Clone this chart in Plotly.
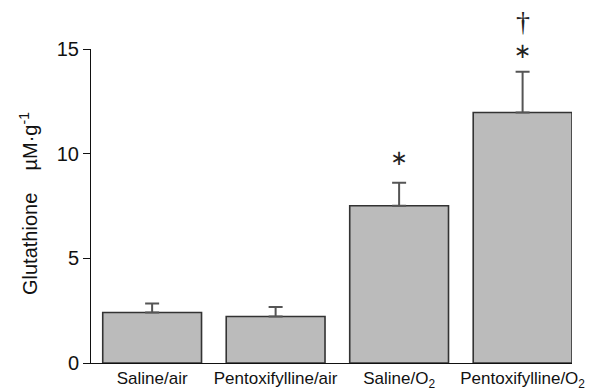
import plotly.graph_objects as go

# Glutathione content per treatment group (mean + SEM)
groups = ["Saline/air", "Pentoxifylline/air", "Saline/O<sub>2</sub>", "Pentoxifylline/O<sub>2</sub>"]
glutathione = [2.41, 2.22, 7.51, 11.97]
sem = [0.43, 0.45, 1.10, 1.94]

# Significance markers drawn above the error bars
star_groups = [groups[2], groups[3]]
star_y = [9.73, 14.80]
dagger_groups = [groups[3]]
dagger_y = [16.3]

Y_MAX = 15
FONT = "Liberation Sans, Arial, Helvetica, sans-serif"

fig = go.Figure()
fig.add_trace(go.Bar(
    x=groups,
    y=glutathione,
    width=0.8,
    marker=dict(color="#bbbbbb", line=dict(color="#333333", width=1.6)),
    error_y=dict(
        type="data",
        symmetric=False,
        array=sem,
        arrayminus=[0] * len(sem),
        color="#555555",
        thickness=2,
        width=7,
    ),
    cliponaxis=False,
    showlegend=False,
))

fig.add_trace(go.Scatter(
    x=star_groups, y=star_y, mode="text", text=["\u2217"] * len(star_groups),
    textposition="middle center",
    textfont=dict(family="DejaVu Sans, sans-serif", size=21, color="#222222"),
    cliponaxis=False, showlegend=False, hoverinfo="skip",
))

# The dagger sits above the axis range, so it is placed in paper units
for g, yv in zip(dagger_groups, dagger_y):
    fig.add_annotation(
        x=g, xref="x", y=yv / Y_MAX, yref="paper", text="\u2020", showarrow=False,
        font=dict(family="Liberation Serif, serif", size=28, color="#222222"),
        xanchor="center", yanchor="middle",
    )

# Rotated y-axis label
fig.add_annotation(
    xref="paper", yref="paper", x=0, y=0.5, xshift=-63, yshift=2,
    text="Glutathione\u00a0\u00a0\u00a0\u00a0\u00b5M\u00b7g<sup>-1</sup>",
    textangle=-90, showarrow=False,
    font=dict(family=FONT, size=20, color="#111111"),
    xanchor="center", yanchor="middle",
)

fig.update_layout(
    width=589, height=392,
    margin=dict(l=91, r=17, t=49, b=29),
    paper_bgcolor="white", plot_bgcolor="white",
    font=dict(family=FONT, color="#111111"),
    bargap=0.2,
)
fig.update_xaxes(
    range=[-0.495, 3.40], automargin=False,
    showline=True, linecolor="#111111", linewidth=1,
    ticks="", showgrid=False, zeroline=False,
    tickfont=dict(family=FONT, size=17, color="#111111"),
)
fig.update_yaxes(
    range=[0, Y_MAX], tickvals=[0, 5, 10, 15], automargin=False,
    showline=True, linecolor="#111111", linewidth=1,
    ticks="outside", ticklen=7, tickcolor="#111111", tickwidth=1,
    showgrid=False, zeroline=False,
    tickfont=dict(family=FONT, size=20, color="#111111"),
)

fig.write_html("out.html")
